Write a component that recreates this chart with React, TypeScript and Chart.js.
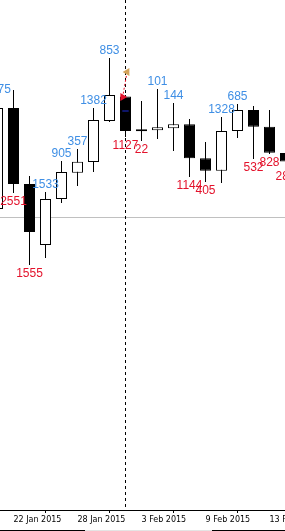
import { useEffect, useRef } from 'react';
import { Chart, registerables } from 'chart.js';

Chart.register(...registerables);

// ---- data ----
const dates = [
  '21 Jan 2015', '22 Jan 2015', '23 Jan 2015', '26 Jan 2015', '27 Jan 2015',
  '28 Jan 2015', '29 Jan 2015', '30 Jan 2015', '2 Feb 2015', '3 Feb 2015',
  '4 Feb 2015', '5 Feb 2015', '6 Feb 2015', '9 Feb 2015', '10 Feb 2015',
  '11 Feb 2015', '12 Feb 2015', '13 Feb 2015', '16 Feb 2015',
];
const opens = [
  1.13103, 1.16436, 1.13928, 1.11915, 1.13433, 1.14301, 1.14654, 1.16007, 1.16816, 1.15694,
  1.15700, 1.15766, 1.15898, 1.14776, 1.14367, 1.15677, 1.16370, 1.15819, 1.14951,
];
const highs = [
  1.16799, 1.17030, 1.14192, 1.13664, 1.14687, 1.15083, 1.16436, 1.18086, 1.16865, 1.16667,
  1.17063, 1.16601, 1.16073, 1.15314, 1.16139, 1.16568, 1.16502, 1.16370, 1.15116,
];
const lows = [
  1.12938, 1.13631, 1.11255, 1.11486, 1.13301, 1.13862, 1.14324, 1.15974, 1.15479, 1.15347,
  1.15413, 1.15017, 1.14159, 1.13994, 1.13961, 1.15446, 1.14753, 1.14918, 1.14456,
];
const closes = [
  1.16436, 1.13928, 1.12344, 1.13433, 1.14324, 1.14664, 1.16040, 1.16865, 1.15677, 1.15670,
  1.15799, 1.15898, 1.14776, 1.14367, 1.15677, 1.16370, 1.15819, 1.14961, 1.14671,
];
const bodyLabels = [
  '3375', '2551', '1555', '1533', '905', '357', '1382', '853', '1127', '22',
  '101', '144', '1144', '405', '1328', '685', '532', '828', '286',
];
const tickIndices = [1, 5, 9, 13, 17];
const cursorIndex = 8;
const priceLine = 1.12839;
const tradeX = [8.1, 7.82];
const tradeY = [1.17624, 1.16799];
const markX = [7.8, 8.2];
const markY = 1.16337;

const yMin = 1.0317;
const yMax = 1.2;
const xMin = 0.15625;
const xMax = 17.96875;

const BLUE = '#3f8fe5';
const RED = '#e3122b';

const overlayPlugin = {
  id: 'overlay',
  beforeDatasetsDraw(chart: any) {
    const { ctx, chartArea, scales } = chart;
    const x = scales.x;
    const y = scales.y;
    ctx.save();
    // price line
    const py = Math.round(y.getPixelForValue(priceLine)) + 0.5;
    ctx.strokeStyle = '#c0c0c0';
    ctx.lineWidth = 1;
    ctx.beginPath();
    ctx.moveTo(chartArea.left, py);
    ctx.lineTo(chartArea.right, py);
    ctx.stroke();
    // cursor dashed line
    const cx = Math.floor(x.getPixelForValue(cursorIndex)) + 0.5;
    ctx.strokeStyle = '#000';
    ctx.setLineDash([3, 3]);
    ctx.beginPath();
    ctx.moveTo(cx, chartArea.top);
    ctx.lineTo(cx, chartArea.bottom);
    ctx.stroke();
    ctx.restore();
  },
  afterDatasetsDraw(chart: any) {
    const { ctx, scales } = chart;
    const x = scales.x;
    const y = scales.y;
    ctx.save();
    ctx.font = '12px "Liberation Sans", Arial, sans-serif';
    ctx.textAlign = 'center';
    bodyLabels.forEach((t, i) => {
      const px = x.getPixelForValue(i);
      if (closes[i] >= opens[i]) {
        ctx.fillStyle = BLUE;
        ctx.textBaseline = 'alphabetic';
        ctx.fillText(t, px, y.getPixelForValue(highs[i]) - 4);
      } else {
        ctx.fillStyle = RED;
        ctx.textBaseline = 'top';
        ctx.fillText(t, px, y.getPixelForValue(lows[i]) + 3);
      }
    });
    ctx.restore();
  },
  afterDraw(chart: any) {
    const { ctx, width, height } = chart;
    ctx.save();
    ctx.fillStyle = '#000';
    ctx.fillRect(0, height - 1, 85, 1);
    ctx.fillStyle = '#e4e4e4';
    ctx.fillRect(85, height - 1, 127, 1);
    ctx.fillStyle = '#000';
    ctx.fillRect(212, height - 1, width - 212, 1);
    ctx.restore();
  },
};

export default function App() {
  const ref = useRef<HTMLCanvasElement | null>(null);

  useEffect(() => {
    if (!ref.current) return;
    const chart = new Chart(ref.current, {
      type: 'bar',
      data: {
        datasets: [
          {
            type: 'line',
            data: tradeX.map((v, i) => ({ x: v, y: tradeY[i] })),
            borderColor: RED,
            borderWidth: 1,
            borderDash: [2, 2],
            pointStyle: 'triangle',
            pointRadius: 4.5,
            pointRotation: [-90, 90],
            pointBackgroundColor: ['#d4a35a', RED],
            pointBorderColor: ['#d4a35a', RED],
            pointBorderWidth: 0,
            order: 0,
          } as any,
          {
            type: 'line',
            data: markX.map((v) => ({ x: v, y: markY })),
            borderColor: '#1a2ad0',
            borderWidth: 1,
            pointRadius: 0,
            order: 0,
          } as any,
          {
            type: 'bar',
            data: dates.map((_, i) => ({ x: i, y: [opens[i], closes[i]] })),
            backgroundColor: dates.map((_, i) => (closes[i] >= opens[i] ? '#ffffff' : '#000000')),
            borderColor: '#000',
            borderWidth: 1,
            borderSkipped: false,
            barThickness: 11,
            minBarLength: 2,
            grouped: false,
            inflateAmount: 0,
            order: 1,
          } as any,
          {
            type: 'bar',
            data: dates.map((_, i) => ({ x: i, y: [lows[i], highs[i]] })),
            backgroundColor: '#000',
            borderWidth: 0,
            barThickness: 1,
            grouped: false,
            inflateAmount: 0,
            order: 2,
          } as any,
        ],
      },
      options: {
        responsive: false,
        animation: false,
        devicePixelRatio: 1,
        layout: { padding: 0, autoPadding: false },
        plugins: { legend: { display: false }, tooltip: { enabled: false } },
        scales: {
          x: {
            type: 'linear',
            min: xMin,
            max: xMax,
            offset: false,
            afterBuildTicks: (axis: any) => {
              axis.ticks = tickIndices.map((v) => ({ value: v }));
            },
            afterFit: (axis: any) => {
              axis.height = 21;
              axis.paddingLeft = 0;
              axis.paddingRight = 0;
            },
            grid: { display: true, drawOnChartArea: false, drawTicks: true, tickLength: 3, color: '#000', lineWidth: 1 },
            border: { display: true, color: '#000', width: 1 },
            ticks: {
              autoSkip: false,
              maxRotation: 0,
              minRotation: 0,
              align: 'start',
              padding: 2,
              color: '#000',
              font: { family: '"DejaVu Sans", sans-serif', size: 8 },
              callback: (v: any) => dates[v] ?? '',
            },
          },
          y: { display: false, min: yMin, max: yMax },
        },
      } as any,
      plugins: [overlayPlugin],
    });
    return () => chart.destroy();
  }, []);

  return (
    <div style={{ position: 'fixed', left: 0, top: 0, width: 285, height: 531, overflow: 'hidden', background: '#fff' }}>
      <canvas ref={ref} width={285} height={531} style={{ display: 'block', width: 285, height: 531 }} />
    </div>
  );
}
